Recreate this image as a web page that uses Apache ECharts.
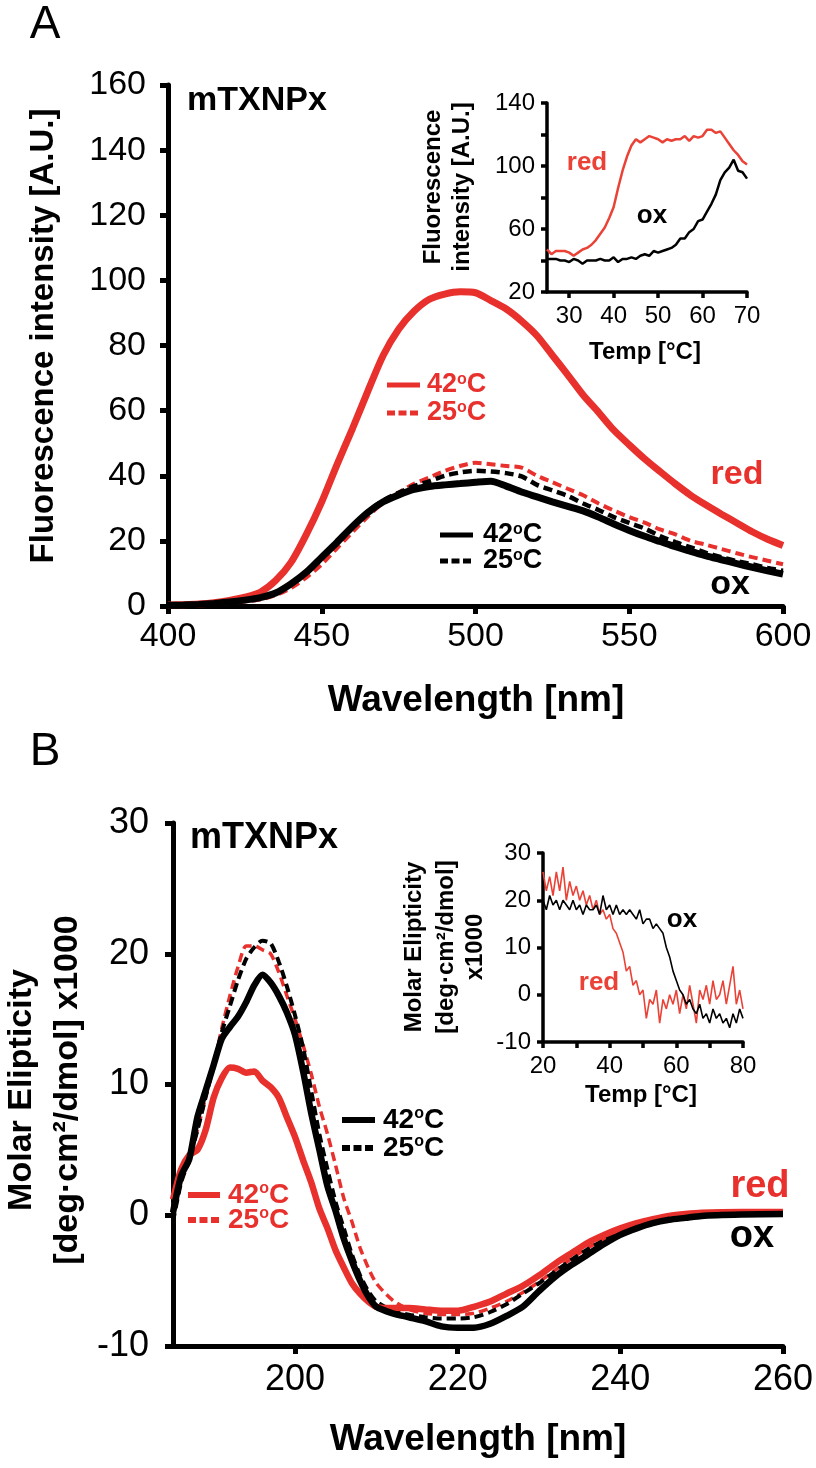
<!DOCTYPE html>
<html><head><meta charset="utf-8">
<script src="https://cdn.jsdelivr.net/npm/echarts@6/dist/echarts.min.js"></script>
<style>html,body{margin:0;padding:0;background:#fff}#c{width:816px;height:1468px}</style>
</head><body><div id="c"></div>
<script>
// ---------- Panel A: fluorescence spectra ----------
const A_wavelength = [400,405,410,415,420,425,430,435,440,445,450,455,460,465,470,475,480,485,490,495,500,505,510,515,520,525,530,535,540,545,550,555,560,565,570,575,580,585,590,595,600];
const A_red_42 = [0.3,0.4,0.6,1.0,1.7,2.7,4.2,7.8,13.4,22,32,43.5,54.5,66,77,85,90.5,94.2,95.8,96.5,96.2,93.8,91.2,87.5,83,77,71,64.8,59.5,54,49.5,45.2,41.3,37.5,34,31,28.2,25.5,22.8,20.5,18.6];
const A_red_25 = [0.2,0.2,0.3,0.5,0.9,1.4,2.0,3.3,5.5,8.8,12.8,17.8,22.7,27.5,31.8,34.8,37.5,39.5,41.5,43,44,43.5,43,42.5,40,38,36,34,31.5,29.3,27.3,25.6,23.5,22,20,18.8,17.5,16.2,15,13.9,12.8];
const A_ox_42 = [0.2,0.3,0.5,0.8,1.2,1.8,2.6,4.0,6.8,10.4,15,19.6,24.4,28.7,32,34.1,35.8,36.7,37.2,37.6,38,38.3,36.8,35,33.5,32,30.6,29.2,27.3,25.2,23.2,21.4,19.8,18.2,16.8,15.4,14.2,13,11.9,10.8,9.8];
const A_ox_25 = [0.2,0.3,0.5,0.8,1.2,1.8,2.6,4.1,6.9,10.6,15.2,19.8,24.6,29,32.4,34.8,36.8,38.3,40,41,41.5,41.3,40.8,39.8,37.2,35.5,33.8,31.5,29.5,27.3,25.5,23.8,21.5,19.6,18,16.3,15,13.8,12.8,11.7,10.8];
const A_xTicks = [400,450,500,550,600];

// ---------- Panel A inset: thermal melt ----------
const Ai_temp = [25,26,27,28,29,30,31,32,33,34,35,36,37,38,39,40,41,42,43,44,45,46,47,48,49,50,51,52,53,54,55,56,57,58,59,60,61,62,63,64,65,66,67,68,69,70];
const Ai_red = [47,44,46,46,46,45,43,45,47,48,50,53,57,61,67,74,86,97,106,113,117,115,117,119,118,117,115,117,116,117,117,119,116,119,118,119,123,123,121,122,118,114,110,107,103,101];
const Ai_ox = [41,41,41,40,40,39,41,40,38,40,40,40,41,40,40,42,39,41,41,42,41,43,44,43,46,45,46,47,48,50,54,54,58,60,65,66,71,76,82,91,96,99,104,97,96,92];
const Ai_xTicks = [30,40,50,60,70];

// ---------- Panel B: CD spectra ----------
const B_wavelength = [185,186,187,188,189,190,191,192,193,194,195,196,197,198,199,200,201,202,203,204,205,206,207,208,209,210,212,214,216,218,220,222,224,226,228,230,232,234,236,238,240,242,244,246,248,250,255,260];
const B_ox_42 = [0.2,3,4.3,7.5,9.5,11.5,13.5,14.4,15.2,16.3,17.6,18.4,17.8,16.8,15.5,13.8,11,7.8,5,2.2,0.3,-1.8,-3.5,-5,-6.2,-7,-7.5,-7.8,-8.1,-8.5,-8.6,-8.6,-8.3,-7.7,-7,-5.8,-4.7,-3.8,-3,-2.2,-1.5,-1,-0.6,-0.35,-0.2,-0.05,0.05,0.1];
const B_ox_25 = [-0.5,2.5,4.3,6.5,9,11.5,14,16,18,19.6,20.5,21,20.8,19.4,17.5,15.3,12.8,9.5,6.2,3.5,1,-1,-3,-4.6,-5.8,-6.6,-7.3,-7.6,-7.8,-7.9,-7.9,-7.8,-7.4,-6.8,-6,-5.2,-4.3,-3.4,-2.6,-1.9,-1.3,-0.8,-0.45,-0.2,-0.05,0,0.05,0.1];
const B_red_42 = [1.2,3.5,4.6,5,6.5,9,10.5,11.3,11.2,10.9,11,10.3,9.8,9,7.5,6,4.2,2.5,0.5,-1,-2.7,-4,-5.2,-6,-6.6,-7,-7.1,-7.1,-7.2,-7.3,-7.3,-7,-6.6,-6,-5.4,-4.6,-3.7,-2.9,-2.1,-1.5,-1,-0.6,-0.3,-0.05,0.1,0.2,0.25,0.25];
const B_red_25 = [0.8,3,4.5,6.5,9,11.5,14.3,16.8,19,20.6,20.6,20.3,20,18.6,16.8,15,13,10.8,8.3,6.2,3.8,1.3,-0.5,-2.5,-4,-5.2,-6.5,-7.2,-7.5,-7.6,-7.6,-7.5,-7.1,-6.6,-5.9,-5.1,-4.2,-3.3,-2.5,-1.8,-1.2,-0.7,-0.35,-0.1,0.05,0.15,0.2,0.25];
const B_xTicks = [200,220,240,260];

// ---------- Panel B inset: thermal melt ----------
const Bi_temp = [20,21,22,23,24,25,26,27,28,29,30,31,32,33,34,35,36,37,38,39,40,41,42,43,44,45,46,47,48,49,50,51,52,53,54,55,56,57,58,59,60,61,62,63,64,65,66,67,68,69,70,71,72,73,74,75,76,77,78,79,80];
const Bi_red = [26,22,25,21,26,22,27,20,24,21,23,20,22,19,21,18,20,17,18,16,17,14,13,11,9,5,6,2,3,0,1,-5,-1,-2,1,-6,-1,-3,0,-2,1,-4,0,-3,2,-2,-6,1,-1,2,-2,3,-1,0,3,-2,2,6,-2,1,-3];
const Bi_ox = [20,18,21,19,20,18,20,19,18,20,18,19,17,19,18,18,19,17,21,18,19,17,19,17,18,17,18,17,16,18,15,16,16,14,15,14,13,10,8,5,3,1,0,-2,-1,-3,-4,-2,-5,-4,-6,-3,-5,-4,-6,-5,-7,-4,-6,-3,-5];

const RED = '#e8302c', RED_IN = '#ea4236', BLK = '#000';
const FF = '"Liberation Sans", Arial, Helvetica, sans-serif';

function pairs(xs, ys){ return xs.map((x,i)=>[x, ys[i]]); }

function axisBase(w, fs, margin){
  return {
    axisLine:{show:true, onZero:false, lineStyle:{color:'#000', width:w}},
    axisTick:{show:true, inside:false, length: w>4?8:6, lineStyle:{color:'#000', width:w}},
    axisLabel:{color:'#000', fontSize:fs, fontFamily:FF, margin:margin},
    splitLine:{show:false}
  };
}

const chart = echarts.init(document.getElementById('c'), null, {renderer:'canvas', width:816, height:1468});

const grids = [
  {left:168, top:85, width:615, height:521, outerBoundsMode:'none'},   // A main
  {left:547, top:103, width:200, height:189, outerBoundsMode:'none'},  // A inset
  {left:173, top:823, width:610, height:523, outerBoundsMode:'none'},  // B main
  {left:543, top:853, width:200, height:189, outerBoundsMode:'none'}   // B inset
];

const xAxes = [
  Object.assign(axisBase(5, 34, 14), {type:'value', gridIndex:0, min:400, max:600, interval:50}),
  Object.assign(axisBase(3.5, 24, 12), {type:'value', gridIndex:1, min:25, max:70}),
  Object.assign(axisBase(5, 36, 16), {type:'value', gridIndex:2, min:185, max:260}),
  Object.assign(axisBase(3.5, 24, 12), {type:'value', gridIndex:3, min:20, max:80, interval:10})
];
xAxes[1].axisTick.customValues = Ai_xTicks;
xAxes[1].axisLabel.customValues = Ai_xTicks;
xAxes[2].axisTick.customValues = B_xTicks;
xAxes[2].axisLabel.customValues = B_xTicks;
xAxes[3].axisLabel.formatter = v => (v % 20 === 0 ? String(v) : '');
xAxes[0].axisLabel.customValues = A_xTicks;

const yAxes = [
  Object.assign(axisBase(5, 34, 22), {type:'value', gridIndex:0, min:0, max:160, interval:20}),
  Object.assign(axisBase(3.5, 24, 12), {type:'value', gridIndex:1, min:20, max:140, interval:20}),
  Object.assign(axisBase(5, 36, 24), {type:'value', gridIndex:2, min:-10, max:30, interval:10}),
  Object.assign(axisBase(3.5, 24, 12), {type:'value', gridIndex:3, min:-10, max:30, interval:10})
];
yAxes[1].axisLabel.formatter = v => ((v - 20) % 40 === 0 ? String(v) : '');

function line(name, xi, data, color, width, dash, z){
  return {name, type:'line', xAxisIndex:xi, yAxisIndex:xi, data, symbol:'none', smooth:0.25,
    lineStyle:{color, width, type: dash ? [9,5] : 'solid', cap:'butt'}, z: z||2, silent:true};
}

const series = [
  line('A red 25', 0, pairs(A_wavelength, A_red_25), RED, 4, true, 2),
  line('A ox 25', 0, pairs(A_wavelength, A_ox_25), BLK, 4.5, true, 3),
  line('A red 42', 0, pairs(A_wavelength, A_red_42), RED, 7, false, 4),
  line('A ox 42', 0, pairs(A_wavelength, A_ox_42), BLK, 7, false, 5),
  line('Ai red', 1, pairs(Ai_temp, Ai_red), RED_IN, 2.5, false, 3),
  line('Ai ox', 1, pairs(Ai_temp, Ai_ox), BLK, 2.5, false, 4),
  line('B red 25', 2, pairs(B_wavelength, B_red_25), RED, 3.5, true, 2),
  line('B ox 25', 2, pairs(B_wavelength, B_ox_25), BLK, 4, true, 3),
  line('B red 42', 2, pairs(B_wavelength, B_red_42), RED, 6.5, false, 4),
  line('B ox 42', 2, pairs(B_wavelength, B_ox_42), BLK, 6.5, false, 5),
  line('Bi red', 3, pairs(Bi_temp, Bi_red), RED_IN, 1.6, false, 3),
  line('Bi ox', 3, pairs(Bi_temp, Bi_ox), BLK, 1.6, false, 4)
];
series.forEach(s => { if (s.xAxisIndex === 3 || s.xAxisIndex === 1) s.smooth = false; });

function txt(x, y, text, size, opts){
  opts = opts || {};
  return {type:'text', x, y, rotation: opts.rot || 0, z:100, silent:true,
    style:{text, fill: opts.color || '#000', fontSize:size, fontWeight: opts.weight || 'bold', fontFamily:FF,
      align: opts.align || 'center', verticalAlign:'middle', rich: opts.rich, lineHeight: opts.lh}};
}
function deg(x, y, t, size, color){
  return txt(x, y, t + '{s|o}C', size, {color, align:'left',
    rich:{s:{fontSize: Math.round(size*0.58), fontWeight:'bold', fontFamily:FF, fill:color, verticalAlign:'top'}}});
}
function seg(x1, x2, y, color, w, dash){
  return {type:'line', z:100, silent:true, shape:{x1, y1:y, x2, y2:y},
    style:{stroke:color, lineWidth:w, lineDash: dash ? [8,3.5] : null}};
}

const graphic = [
  txt(45, 25, 'A', 46, {weight:'normal', align:'center'}),
  txt(45, 752, 'B', 46, {weight:'normal', align:'center'}),
  txt(187, 101, 'mTXNPx', 34, {align:'left'}),
  txt(190, 838, 'mTXNPx', 36, {align:'left'}),
  txt(44, 336, 'Fluorescence intensity [A.U.]', 33, {rot: Math.PI/2}),
  txt(476, 701, 'Wavelength [nm]', 37),
  txt(478, 1440, 'Wavelength [nm]', 37),
  txt(22, 1090, 'Molar Elipticity', 34, {rot: Math.PI/2}),
  txt(68, 1090, '[deg·cm²/dmol] x1000', 34, {rot: Math.PI/2}),
  // inset A titles
  txt(433, 187, 'Fluorescence', 24, {rot: Math.PI/2}),
  txt(462, 187, 'intensity [A.U.]', 24, {rot: Math.PI/2}),
  txt(645, 352, 'Temp [°C]', 24),
  txt(587, 163, 'red', 26, {color: RED_IN}),
  txt(652, 216, 'ox', 26),
  // inset B titles
  txt(414, 947, 'Molar Elipticity', 24, {rot: Math.PI/2}),
  txt(446, 947, '[deg·cm²/dmol]', 24, {rot: Math.PI/2}),
  txt(475, 947, 'x1000', 24, {rot: Math.PI/2}),
  txt(641, 1095, 'Temp [°C]', 24),
  txt(682, 920, 'ox', 26),
  txt(599, 983, 'red', 26, {color: RED_IN}),
  // panel A legends and labels
  seg(387, 420, 385, RED, 5, false), deg(427, 385, '42', 27, RED),
  seg(387, 420, 413, RED, 5, true), deg(427, 413, '25', 27, RED),
  seg(440, 473, 535, BLK, 5, false), deg(483, 535, '42', 27, BLK),
  seg(440, 473, 561, BLK, 5, true), deg(483, 561, '25', 27, BLK),
  txt(737, 475, 'red', 34, {color: RED}),
  txt(730, 585, 'ox', 34),
  // panel B legends and labels
  seg(342, 375, 1120, BLK, 6, false), deg(383, 1120, '42', 28, BLK),
  seg(342, 375, 1148, BLK, 6, true), deg(383, 1148, '25', 28, BLK),
  seg(188, 220, 1195, RED, 6, false), deg(228, 1195, '42', 28, RED),
  seg(188, 220, 1220, RED, 6, true), deg(228, 1220, '25', 28, RED),
  txt(760, 1187, 'red', 38, {color: RED}),
  txt(752, 1237, 'ox', 38)
];

chart.setOption({
  animation:false,
  backgroundColor:'#fff',
  grid: grids, xAxis: xAxes, yAxis: yAxes, series, graphic
});
</script></body></html>
